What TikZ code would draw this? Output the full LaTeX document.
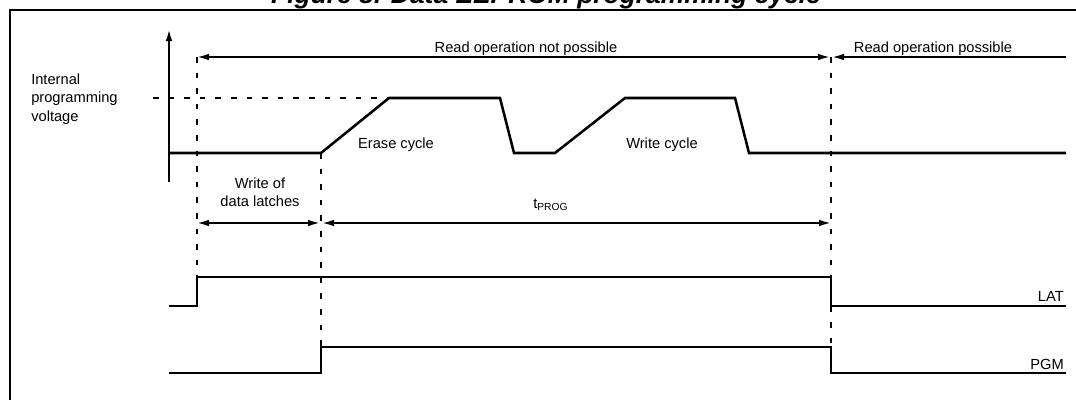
\documentclass[tikz,border=0pt]{standalone}
\usepackage{fontspec}
\setmainfont{Liberation Sans}
\usetikzlibrary{arrows.meta}
\begin{document}
\begin{tikzpicture}[x=0.75pt,y=-0.75pt,
  lbl/.style={inner sep=0pt,font=\fontsize{11}{13.8}\selectfont},
  sig/.style={line width=1.9pt,line join=miter},
  wave/.style={line width=1.5pt,line join=miter},
  guide/.style={line width=1.4pt,dash pattern=on 4.2pt off 7.5pt},
  dim/.style={line width=1.4pt,{Latex[length=9pt,width=5pt]}-{Latex[length=9pt,width=5pt]}},
  dimr/.style={line width=1.4pt,{Latex[length=9pt,width=5pt]}-}]
\useasboundingbox (0,0) rectangle (1076,400);
% frame and title
\draw[line width=1.8pt] (10,410) -- (10,10) -- (1090,10);
\node[inner sep=0pt,anchor=base,font=\fontsize{19.8}{22}\bfseries\itshape] (title) at (546,3) {Figure 8. Data EEPROM programming cycle};
% axis
\coordinate (ax0) at (169,182);
\coordinate (ax1) at (169,29);
\draw[line width=1.6pt,-{Latex[length=9pt,width=5pt]}] (ax0) -- (ax1);
% time marks
\coordinate (t1top) at (197,57);
\coordinate (t1bot) at (197,277);
\coordinate (t2top) at (321,153);
\coordinate (t2bot) at (321,347);
\coordinate (t3top) at (831,57);
\coordinate (t3bot) at (831,373);
\draw[guide] (t1top) -- (t1bot);
\draw[guide] (t2top) -- (t2bot);
\draw[guide] (t3top) -- (t3bot);
\coordinate (hd0) at (153,98);
\coordinate (hd1) at (389,98);
\draw[guide] (hd0) -- (hd1);
% voltage
\draw[sig] (169,153) -- (t2top) -- (389,98) -- (500,98) -- (514,153) -- (555,153) -- (625,98) -- (735,98) -- (749,153) -- (1066,153);
% top arrows
\coordinate (rp1) at (830,57);
\coordinate (rp2) at (832,57);
\coordinate (rpe) at (1066,57);
\draw[dim] (t1top) -- (rp1);
\draw[dimr] (rp2) -- (rpe);
\node[lbl] (rnp) at (526,49) {Read operation not possible};
\node[lbl] (rp) at (933,49) {Read operation possible};
% timing arrows
\coordinate (a0) at (197,223);
\coordinate (a1) at (320,223);
\coordinate (a2) at (322,223);
\coordinate (a3) at (831,223);
\draw[dim] (a0) -- (a1);
\draw[dim] (a2) -- (a3);
\node[lbl,align=center] (wdl) at (260,192) {Write of\\data latches};
\node[lbl,anchor=base west] (tprog) at (533,208) {t\textsubscript{PROG}};
% texts
\node[lbl,align=left,anchor=west] (ipv) at (31,99) {Internal\\programming\\voltage};
\node[lbl] (erase) at (396,145) {Erase cycle};
\node[lbl] (write) at (662,145) {Write cycle};
% LAT
\draw[wave] (169,306) -- (197,306) -- (t1bot) -- (831,277) -- (831,306) -- (1066,306);
\node[lbl,anchor=base east] (lat) at (1064,301) {LAT};
% PGM
\draw[wave] (169,373) -- (321,373) -- (t2bot) -- (831,347) -- (t3bot) -- (1066,373);
\node[lbl,anchor=base east] (pgm) at (1064,369) {PGM};
\end{tikzpicture}
\end{document}
